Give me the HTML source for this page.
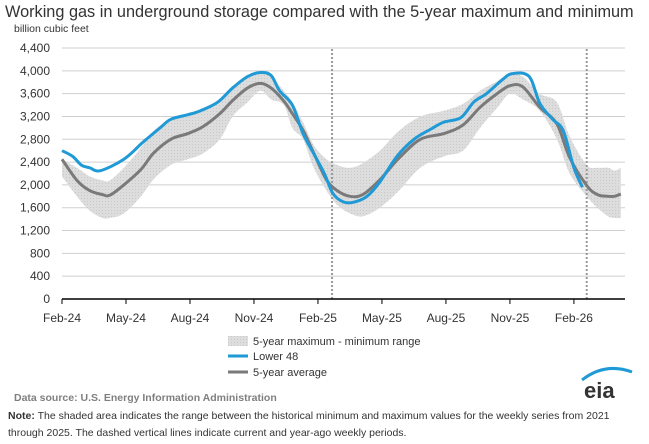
<!DOCTYPE html>
<html><head><meta charset="utf-8"><style>
body{margin:0;background:#fff;font-family:"Liberation Sans",sans-serif;}
svg{display:block}
</style></head><body>
<svg width="649" height="444" xmlns="http://www.w3.org/2000/svg">
<defs><pattern id="dots" width="3" height="3" patternUnits="userSpaceOnUse"><rect width="3" height="3" fill="#dddddd"/><rect width="1" height="1" fill="#c8c8c8"/></pattern></defs>
<text x="5" y="17" font-size="16.3" fill="#333">Working gas in underground  storage compared with the 5-year maximum and minimum</text>
<text x="14" y="32" font-size="10.5" fill="#333">billion cubic feet</text>
<g id="grid"></g><g id="band"></g><g id="lines"></g><g id="axes"></g>
<g>
<rect x="228" y="336" width="20" height="10" fill="url(#dots)"/>
<text x="253" y="345" font-size="11" fill="#333">5-year maximum - minimum range</text>
<line x1="228" y1="356" x2="248" y2="356" stroke="#1f9ad6" stroke-width="3"/>
<text x="253" y="360" font-size="11" fill="#333">Lower 48</text>
<line x1="228" y1="372" x2="248" y2="372" stroke="#7a7a7a" stroke-width="3"/>
<text x="253" y="376" font-size="11" fill="#333">5-year average</text>
</g>
<text x="14" y="401" font-size="10.5" font-weight="bold" fill="#7f7f7f">Data source:  U.S. Energy Information Administration</text>
<g>
<path d="M582 380 Q605 362 632 372" stroke="#1f9ad6" stroke-width="3" fill="none"/>
<text x="584" y="398" font-size="22" font-weight="bold" fill="#333">eia</text>
</g>
<text x="8" y="419" font-size="10.5" fill="#333"><tspan font-weight="bold">Note:</tspan> The shaded area indicates the range between the historical minimum and maximum values for the weekly series from 2021</text>
<text x="8" y="436" font-size="10.5" fill="#333">through 2025. The dashed vertical lines indicate current and year-ago weekly periods.</text>
</svg>
<script>
const yTicks=[0,400,800,1200,1600,2000,2400,2800,3200,3600,4000,4400];
const xTickLabels=["Feb-24","May-24","Aug-24","Nov-24","Feb-25","May-25","Aug-25","Nov-25","Feb-26"];
const xTickMonths=[0,3,6,9,12,15,18,21,24];
const currentWeeks=[12.66,24.6];
const avgMonths=[0,0.7,1.3,1.9,2.25,2.9,3.7,4.3,5.1,5.9,6.6,7.4,8,8.7,9.3,9.8,10.4,10.8,11.3,11.8,12.4,12.9,13.5,14.1,14.9,15.8,16.8,17.9,18.8,19.6,20.4,21,21.6,22.4,23.2,23.8,24.6,25.1,25.6,25.9,26.2];
const avgValues=[2450,2080,1900,1830,1820,2000,2270,2560,2800,2900,3020,3250,3480,3700,3780,3700,3470,3250,2960,2560,2090,1900,1800,1830,2090,2470,2800,2900,3050,3360,3600,3740,3720,3360,3070,2480,1990,1830,1800,1800,1840];
const maxValues=[2450,2300,2150,2080,2080,2300,2650,2950,3150,3250,3350,3500,3700,3900,3950,3900,3650,3450,3100,2700,2450,2350,2300,2380,2600,2950,3200,3300,3420,3650,3820,3950,3900,3600,3450,2850,2350,2300,2300,2250,2300];
const minValues=[2150,1800,1550,1420,1420,1500,1800,2100,2350,2450,2550,2800,3200,3450,3650,3500,3400,3000,2800,2300,1900,1650,1500,1450,1600,1900,2300,2500,2600,3000,3350,3600,3500,3300,2800,2200,1800,1600,1450,1420,1420];
const l48Months=[0,0.5,0.9,1.3,1.8,2.9,3.8,4.6,5.1,5.9,6.5,7.3,8,8.7,9.3,9.8,10.2,10.8,11.3,11.8,12.3,12.7,13.2,13.7,14.3,14.9,15.7,16.5,17.3,17.9,18.7,19.3,19.9,20.6,21.1,21.9,22.4,23,23.5,24,24.4];
const l48Values=[2600,2500,2350,2300,2250,2450,2750,3000,3150,3230,3300,3450,3700,3900,3970,3920,3650,3400,2900,2550,2200,1850,1700,1700,1800,2050,2500,2800,2980,3100,3180,3450,3600,3830,3950,3900,3430,3150,2950,2300,1960];
const NS="http://www.w3.org/2000/svg";
const X0=62,X1=625,PX=21.33,Y0=299,SY=251/4400;
const xs=m=>X0+m*PX, ys=v=>Y0-v*SY;
function mk(t,a,p){const e=document.createElementNS(NS,t);for(const k in a)e.setAttribute(k,a[k]);p.appendChild(e);return e;}
function smooth(P,start){let d=start?'M'+P[0][0]+','+P[0][1]:'L'+P[0][0]+','+P[0][1];
 for(let i=0;i<P.length-1;i++){const p0=P[i-1]||P[i],p1=P[i],p2=P[i+1],p3=P[i+2]||p2;
  d+=' C'+(p1[0]+(p2[0]-p0[0])/6)+','+(p1[1]+(p2[1]-p0[1])/6)+' '+(p2[0]-(p3[0]-p1[0])/6)+','+(p2[1]-(p3[1]-p1[1])/6)+' '+p2[0]+','+p2[1];}
 return d;}
const grid=document.getElementById('grid'),axes=document.getElementById('axes'),band=document.getElementById('band'),lines=document.getElementById('lines');
yTicks.forEach(v=>{
 if(v>0){const l=mk('line',{x1:X0,x2:X1,y1:ys(v),y2:ys(v),stroke:'#cfcfcf','stroke-width':1},grid);
 
 }
 const t=mk('text',{x:50,y:ys(v)+4,'text-anchor':'end','font-size':12,fill:'#333'},axes);t.textContent=v.toLocaleString('en-US');
 
 
});
const bandTop=avgMonths.map((m,i)=>[xs(m),ys(maxValues[i])]);
const bandBot=avgMonths.map((m,i)=>[xs(m),ys(minValues[i])]).reverse();
const b=mk('path',{d:smooth(bandTop,true)+' '+smooth(bandBot,false)+' Z',fill:'url(#dots)'},band);


currentWeeks.forEach(m=>{const l=mk('line',{x1:xs(m),x2:xs(m),y1:49,y2:Y0,stroke:'#999','stroke-width':2,'stroke-dasharray':'2,2'},lines);
 
 });
const a=mk('path',{d:smooth(avgMonths.map((m,i)=>[xs(m),ys(avgValues[i])]),true),fill:'none',stroke:'#7a7a7a','stroke-width':3,'stroke-linejoin':'round'},lines);


const l4=mk('path',{d:smooth(l48Months.map((m,i)=>[xs(m),ys(l48Values[i])]),true),fill:'none',stroke:'#1f9ad6','stroke-width':3,'stroke-linejoin':'round'},lines);


mk('line',{x1:X0,x2:X1,y1:Y0,y2:Y0,stroke:'#000','stroke-width':1.5},axes);
xTickMonths.forEach((m,i)=>{mk('line',{x1:xs(m),x2:xs(m),y1:Y0,y2:Y0+5,stroke:'#000'},axes);
 const t=mk('text',{x:xs(m),y:322,'text-anchor':'middle','font-size':12,fill:'#333'},axes);t.textContent=xTickLabels[i];
 
 });
</script>
</body></html>
